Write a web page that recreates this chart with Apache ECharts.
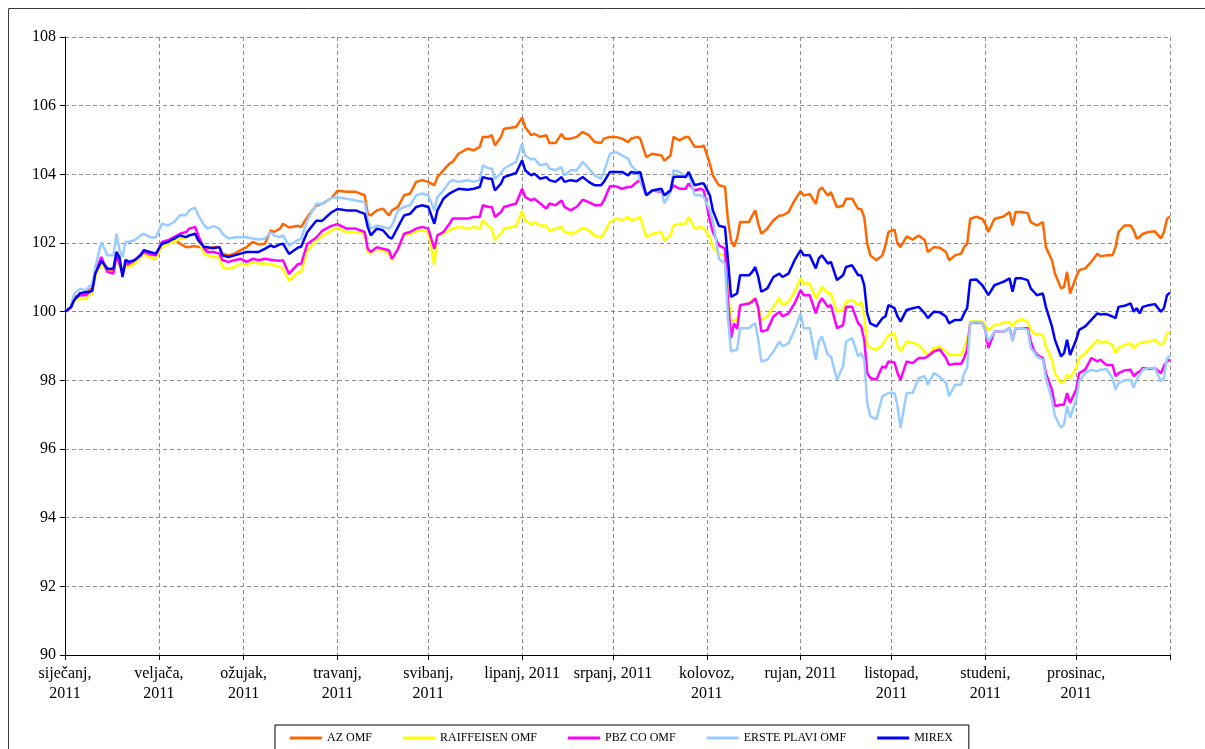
<!DOCTYPE html>
<html><head><meta charset="utf-8">
<script src="https://cdn.jsdelivr.net/npm/echarts@6/dist/echarts.min.js"></script>
<style>html,body{margin:0;padding:0;background:#fff}#c{width:1205px;height:749px}</style>
</head><body><div id="c"></div>
<script>
// Day-of-year (0 = 1 Jan 2011, 365 = 1 Jan 2012) of each sampled point
const days = [
0,2,3,5,7,8,9,10,12,14,
16,17,18,19,20,21,23,25,26,28,
30,32,34,36,38,40,41,43,44,46,
47,49,51,52,54,56,58,60,62,64,
66,68,69,71,72,74,77,78,80,83,
85,88,90,93,96,99,100,101,103,105,
107,108,110,112,114,116,118,120,122,123,
125,127,128,130,133,135,137,138,140,141,
142,144,145,149,151,152,154,155,157,159,
160,162,164,165,167,169,171,173,175,177,
178,180,182,184,186,187,189,190,192,194,
197,198,200,201,203,205,206,208,210,211,
213,214,216,218,219,220,221,222,223,226,
227,228,229,230,232,234,236,237,239,241,
243,244,246,248,249,250,252,253,255,257,
258,260,262,263,264,265,266,268,270,271,
272,274,275,276,278,280,282,284,285,287,
289,291,292,294,296,297,298,299,301,303,
304,305,307,309,310,312,313,314,316,318,
319,320,321,323,324,326,327,329,330,331,
332,334,335,337,339,341,342,344,346,347,
348,350,352,353,354,355,356,358,360,362,
363,364,365];

const azOmf = [
100,100.14,100.43,100.48,100.52,100.64,100.67,101.16,101.5,101.25,
101.2,101.64,101.45,101.16,101.35,101.35,101.45,101.59,101.69,101.59,
101.54,101.93,102.03,102.13,101.98,101.88,101.88,101.91,101.88,101.88,
101.83,101.88,101.88,101.69,101.64,101.69,101.79,101.88,102.03,101.96,
101.98,102.37,102.32,102.42,102.56,102.45,102.5,102.46,102.75,103.09,
103.14,103.31,103.52,103.49,103.49,103.39,102.85,102.8,102.95,103.0,
102.8,102.95,103.05,103.39,103.44,103.78,103.83,103.78,103.68,103.92,
104.12,104.31,104.36,104.6,104.75,104.7,104.8,105.09,105.09,105.14,
104.84,105.09,105.33,105.38,105.65,105.38,105.14,105.18,105.09,105.14,
104.91,104.91,105.18,105.04,105.04,105.09,105.23,105.14,104.94,104.91,
105.04,105.09,105.09,105.04,104.94,105.04,105.09,105.04,104.5,104.6,
104.55,104.4,104.55,105.09,104.99,105.09,105.09,104.8,104.8,104.84,
104.31,103.97,103.68,103.64,102.66,102.08,101.9,102.13,102.61,102.61,
102.8,102.95,102.56,102.27,102.42,102.66,102.8,102.8,102.9,103.24,
103.51,103.38,103.43,103.14,103.53,103.62,103.38,103.48,103.04,103.09,
103.29,103.29,102.99,102.99,102.75,101.98,101.64,101.5,101.64,101.93,
102.32,102.39,101.98,101.88,102.19,102.1,102.22,102.08,101.74,101.88,
101.86,101.74,101.5,101.64,101.69,101.88,101.98,102.7,102.77,102.7,
102.56,102.32,102.7,102.75,102.77,102.9,102.51,102.9,102.9,102.87,
102.61,102.56,102.51,102.61,101.88,101.5,101.11,100.68,100.72,101.16,
100.53,101.01,101.21,101.26,101.45,101.69,101.61,101.64,101.64,101.88,
102.32,102.51,102.51,102.37,102.13,102.17,102.27,102.32,102.34,102.13,
102.32,102.7,102.77];

const raiffeisenOmf = [
100,100.1,100.33,100.38,100.36,100.48,100.52,101.01,101.4,101.16,
101.11,101.59,101.35,101.11,101.3,101.3,101.4,101.59,101.69,101.59,
101.54,101.88,101.98,102.03,102.13,102.17,102.22,102.27,102.08,101.69,
101.64,101.59,101.59,101.3,101.25,101.3,101.4,101.35,101.45,101.4,
101.4,101.38,101.35,101.3,101.25,100.9,101.15,101.15,101.78,102.07,
102.21,102.36,102.45,102.32,102.32,102.27,101.74,101.69,101.83,101.79,
101.69,101.5,101.83,102.22,102.27,102.34,102.37,102.32,101.35,102.22,
102.27,102.37,102.42,102.47,102.42,102.47,102.42,102.66,102.47,102.42,
102.08,102.27,102.42,102.49,102.93,102.66,102.54,102.61,102.51,102.51,
102.35,102.42,102.47,102.32,102.27,102.32,102.45,102.37,102.22,102.16,
102.27,102.61,102.71,102.66,102.76,102.66,102.71,102.76,102.17,102.27,
102.32,102.08,102.22,102.51,102.56,102.56,102.76,102.42,102.47,102.42,
102.17,101.88,101.69,101.64,100.6,99.71,99.76,99.74,100.19,100.24,
100.34,100.39,100.14,99.76,99.86,100.14,100.39,100.19,100.29,100.58,
100.97,100.82,100.82,100.39,100.53,100.72,100.53,100.53,100.0,100.05,
100.29,100.34,100.19,100.29,99.86,99.03,98.94,98.89,99.03,99.18,
99.32,99.37,98.99,98.84,99.13,99.1,99.03,98.84,98.7,98.94,
98.97,98.84,98.74,98.74,98.74,98.94,99.18,99.71,99.71,99.71,
99.61,99.45,99.61,99.64,99.68,99.71,99.57,99.71,99.78,99.71,
99.47,99.37,99.35,99.32,98.99,98.6,98.21,97.92,97.97,98.16,
98.07,98.36,98.65,98.79,98.99,99.18,99.1,99.13,99.03,98.79,
98.94,99.03,99.08,98.94,99.03,99.08,99.1,99.13,99.18,99.03,
99.08,99.37,99.42];

const pbzCoOmf = [
100,100.12,100.38,100.48,100.48,100.57,100.6,101.16,101.59,101.16,
101.11,101.64,101.4,101.11,101.4,101.4,101.5,101.67,101.74,101.67,
101.64,102.03,102.08,102.17,102.27,102.32,102.42,102.47,102.22,101.83,
101.74,101.74,101.69,101.5,101.45,101.5,101.54,101.45,101.54,101.5,
101.54,101.51,101.5,101.48,101.5,101.1,101.39,101.39,101.97,102.16,
102.36,102.5,102.55,102.42,102.42,102.32,101.83,101.74,101.88,101.83,
101.79,101.54,101.83,102.27,102.32,102.42,102.47,102.42,101.83,102.22,
102.32,102.56,102.71,102.71,102.71,102.76,102.76,103.1,103.05,103.05,
102.76,102.9,103.05,103.15,103.58,103.34,103.24,103.29,103.15,103.0,
103.15,103.1,103.24,103.05,102.95,103.05,103.26,103.19,103.1,103.1,
103.24,103.65,103.65,103.58,103.63,103.63,103.78,103.83,103.39,103.53,
103.49,103.39,103.53,103.68,103.58,103.58,103.73,103.53,103.58,103.53,
102.66,102.32,101.93,101.84,100.3,99.23,99.66,99.5,100.19,100.24,
100.29,100.39,100.1,99.42,99.47,99.86,100.0,99.86,99.95,100.24,
100.63,100.48,100.48,99.95,100.24,100.39,100.14,100.19,99.52,99.61,
100.14,100.14,99.66,99.57,99.18,98.21,98.07,98.02,98.41,98.36,
98.55,98.52,98.21,98.02,98.55,98.5,98.65,98.65,98.7,98.84,
98.9,98.65,98.45,98.48,98.48,98.65,98.89,99.66,99.69,99.66,
99.47,98.94,99.42,99.42,99.42,99.52,99.18,99.52,99.52,99.52,
99.13,98.89,98.74,98.65,98.21,97.73,97.25,97.29,97.29,97.63,
97.34,97.73,98.21,98.31,98.65,98.55,98.6,98.45,98.45,98.12,
98.21,98.29,98.31,98.12,98.21,98.26,98.36,98.33,98.36,98.21,
98.41,98.55,98.6];

const erstePlaviOmf = [
100,100.16,100.52,100.67,100.62,100.74,100.77,101.3,102.03,101.64,
101.64,102.27,101.79,101.59,102.03,102.03,102.08,102.22,102.27,102.17,
102.16,102.56,102.51,102.61,102.81,102.81,102.95,103.03,102.81,102.51,
102.42,102.49,102.42,102.27,102.13,102.17,102.17,102.17,102.13,102.1,
102.13,102.32,102.22,102.17,102.22,101.92,102.09,102.12,102.65,103.14,
103.14,103.31,103.33,103.29,103.24,103.19,102.66,102.42,102.51,102.47,
102.42,102.51,102.95,103.05,103.1,103.39,103.44,103.39,102.95,103.34,
103.53,103.78,103.83,103.78,103.83,103.78,103.83,104.26,104.17,104.17,
103.87,104.02,104.17,104.36,104.89,104.55,104.43,104.46,104.26,104.31,
104.17,104.12,104.21,103.97,104.12,104.12,104.36,104.17,103.97,103.87,
104.07,104.6,104.65,104.55,104.46,104.26,104.07,103.83,103.39,103.53,
103.53,103.15,103.49,104.12,104.07,103.92,104.02,103.39,103.39,103.34,
102.95,102.66,101.54,101.4,99.8,98.84,98.87,98.89,99.52,99.52,
99.61,99.66,99.18,98.55,98.6,98.84,99.13,98.99,99.08,99.47,
99.95,99.52,99.52,98.6,99.13,99.28,98.74,98.7,98.02,98.41,
99.13,99.23,98.7,98.79,98.6,97.34,96.96,96.86,97.54,97.58,
97.63,97.63,97.25,96.62,97.63,97.63,98.07,98.12,97.87,98.21,
98.1,97.92,97.54,97.87,97.87,98.21,98.36,99.66,99.71,99.66,
99.47,99.13,99.42,99.42,99.42,99.52,99.13,99.52,99.52,99.47,
98.94,98.84,98.7,98.6,98.07,97.44,96.96,96.62,96.71,97.25,
96.91,97.44,97.97,98.21,98.31,98.26,98.31,98.33,98.07,97.73,
97.92,98.0,98.02,97.78,98.02,98.16,98.31,98.36,98.36,97.97,
98.07,98.65,98.7];

const mirex = [
100,100.14,100.33,100.54,100.57,100.57,100.62,101.11,101.48,101.25,
101.25,101.74,101.59,101.01,101.51,101.45,101.5,101.64,101.79,101.74,
101.69,101.98,102.03,102.13,102.22,102.17,102.22,102.27,102.08,101.88,
101.88,101.85,101.88,101.64,101.59,101.64,101.69,101.74,101.74,101.74,
101.83,101.93,101.88,101.96,101.98,101.68,101.87,101.89,102.31,102.65,
102.65,102.89,102.99,102.95,102.95,102.85,102.47,102.22,102.42,102.37,
102.17,102.13,102.47,102.8,102.85,103.05,103.1,103.05,102.56,102.95,
103.29,103.44,103.49,103.58,103.55,103.58,103.63,103.92,103.87,103.87,
103.53,103.73,103.92,104.04,104.41,104.12,103.97,104.02,103.87,103.92,
103.83,103.78,103.92,103.78,103.83,103.8,103.92,103.78,103.68,103.68,
103.78,104.07,104.07,104.07,103.97,104.07,104.04,104.07,103.39,103.53,
103.58,103.39,103.53,103.92,103.94,103.92,104.07,103.68,103.73,103.73,
103.39,102.95,102.5,102.46,101.5,100.43,100.48,100.53,101.06,101.06,
101.16,101.3,101.01,100.58,100.68,101.01,101.11,101.01,101.11,101.5,
101.79,101.64,101.64,101.26,101.55,101.64,101.4,101.45,100.92,101.06,
101.3,101.35,101.06,101.06,100.77,99.95,99.66,99.57,99.81,99.86,
100.19,100.1,99.86,99.71,100.05,100.1,100.14,99.95,99.81,100.0,
99.98,99.86,99.66,99.76,99.76,99.95,100.1,100.92,100.94,100.77,
100.63,100.48,100.77,100.84,100.87,100.97,100.58,100.97,100.97,100.92,
100.68,100.58,100.48,100.53,100.14,99.57,99.18,98.7,98.79,99.18,
98.74,99.18,99.47,99.57,99.76,99.95,99.92,99.93,99.86,99.81,
100.14,100.17,100.24,100.0,100.1,99.95,100.14,100.19,100.22,100.0,
100.1,100.48,100.55];

const seriesNames = ['AZ OMF', 'RAIFFEISEN OMF', 'PBZ CO OMF', 'ERSTE PLAVI OMF', 'MIREX'];
const seriesValues = [azOmf, raiffeisenOmf, pbzCoOmf, erstePlaviOmf, mirex];
const seriesColors = ['#FF6600', '#FFFF00', '#FF00FF', '#99CCFF', '#0000FF'];

// Month tick labels, at the first day of each month
const monthStartDays = [0,31,59,90,120,151,181,212,243,273,304,334,365];
const monthLabels = ['siječanj,\n2011','veljača,\n2011','ožujak,\n2011','travanj,\n2011','svibanj,\n2011',
  'lipanj, 2011','srpanj, 2011','kolovoz,\n2011','rujan, 2011','listopad,\n2011','studeni,\n2011','prosinac,\n2011',''];
const yTicks = {min: 90, max: 108, step: 2};

const totalDays = 366;
const categories = [];
for (let i = 0; i < totalDays; i++) categories.push(String(i));
const labelOf = {};
monthStartDays.forEach((d, i) => { labelOf[d] = monthLabels[i]; });
const isMonthStart = (idx) => Object.prototype.hasOwnProperty.call(labelOf, idx);

const font = 'Liberation Serif, Times New Roman, serif';
const chart = echarts.init(document.getElementById('c'), null, {renderer: 'canvas'});
chart.setOption({
  animation: false,
  backgroundColor: '#fff',
  textStyle: {fontFamily: font},
  graphic: [{
    type: 'rect', left: 6, top: 6, silent: true,
    shape: {width: 1220, height: 800},
    style: {fill: 'none', stroke: '#3a3a3a', lineWidth: 1}
  }],
  grid: {left: 65, right: 35, top: 37, bottom: 94, containLabel: false},
  legend: {
    left: 275, top: 725,
    data: seriesNames,
    icon: 'rect', itemWidth: 32, itemHeight: 3, itemGap: 31,
    padding: [7, 16, 14, 15],
    borderColor: '#000', borderWidth: 1,
    textStyle: {fontFamily: font, fontSize: 12, color: '#000'}
  },
  xAxis: {
    type: 'category', data: categories, boundaryGap: false,
    axisLine: {lineStyle: {color: '#000', width: 1}},
    axisTick: {show: true, interval: (i) => isMonthStart(i), length: 5, lineStyle: {color: '#000'}},
    axisLabel: {
      interval: (i) => isMonthStart(i),
      formatter: (v, i) => labelOf[i] || '',
      fontFamily: font, fontSize: 16, color: '#000', lineHeight: 20, margin: 9
    },
    splitLine: {show: true, interval: (i) => isMonthStart(i) && i > 0,
      lineStyle: {color: '#8c8c8c', type: [4, 3], width: 1}}
  },
  yAxis: {
    type: 'value', min: yTicks.min, max: yTicks.max, interval: yTicks.step,
    axisLine: {show: true, lineStyle: {color: '#000', width: 1}},
    axisTick: {show: true, length: 5, lineStyle: {color: '#000'}},
    axisLabel: {fontFamily: font, fontSize: 16, color: '#000', margin: 9},
    splitLine: {show: true, lineStyle: {color: '#8c8c8c', type: [4, 3], width: 1}}
  },
  series: seriesNames.map((name, k) => ({
    name, type: 'line', symbol: 'none', smooth: false,
    color: seriesColors[k],
    lineStyle: {width: 2.5, color: seriesColors[k]},
    data: days.map((d, i) => [d, seriesValues[k][i]])
  }))
});
</script>
</body></html>
